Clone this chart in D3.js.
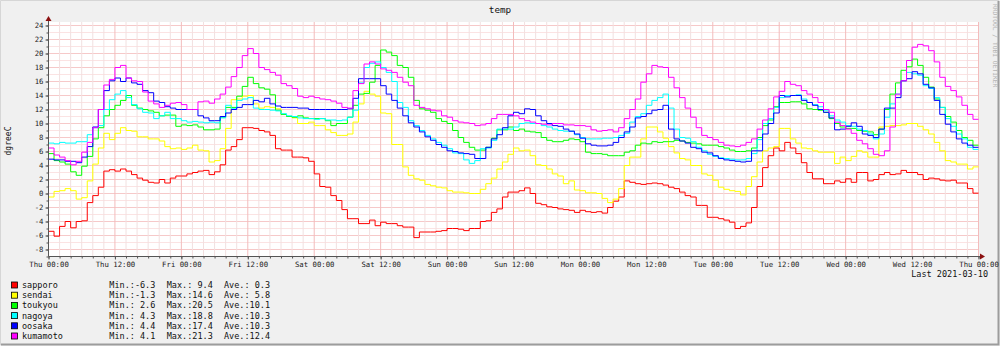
<!DOCTYPE html>
<html>
<head>
<meta charset="utf-8">
<script src="https://cdn.jsdelivr.net/npm/d3@7"></script>
<style>
  html, body { margin: 0; padding: 0; background: #f0f0f0; }
  text { font-family: "DejaVu Sans Mono", monospace; }
</style>
</head>
<body>
<svg width="1000" height="346"></svg>
<script>
// hourly readings, Thu 2021-03-04 00:00 .. Wed 2021-03-10 23:00
let startTime = new Date(2021, 2, 4, 0, 0)
let endTime = new Date(2021, 2, 11, 0, 0)

let stations = ['sapporo', 'sendai', 'toukyou', 'nagoya', 'oosaka', 'kumamoto']
let colors = ['#ff0000', '#ffff00', '#00ff00', '#00ffff', '#0000ff', '#ff00ff']

let sapporo = [-5.4,-6.1,-4.7,-4.0,-4.9,-4.0,-3.9,-1.3,-0.3,0.9, 3.2,3.4,3.2,3.5,3.2,2.7,2.2,1.9,1.6,1.5,
  2.0,1.5,2.2,2.5,2.5,2.8,3.0,3.2,3.3,2.7, 3.1,4.1,6.2,6.7,7.7,9.4,9.4,9.3,9.0,8.8, 8.3,6.4,
  6.2,6.2,5.2,5.2,5.1,4.6,2.8,1.0,0.9,-0.3, -1.0,-2.3,-3.6,-3.6,-4.3,-4.3,-3.8,-4.6,-4.1,-4.3,
  -4.3,-4.6,-4.8,-4.8,-6.3,-5.5,-5.5,-5.5,-5.4,-5.3, -5.0,-5.0,-5.1,-5.3,-5.0,-5.0,-4.0,-3.9,-2.7,-2.2,
  -0.5,0.2,0.2,
  0.4,0.8,0.0,-1.4,-1.6,-1.9,-2.0,-2.2,-2.3,-2.4, -2.7,-2.4,-2.6,-2.7,-2.6,-2.8,-2.0,-1.1,-0.5,1.8,
  1.6,1.4,1.3,1.4,1.5,1.4,1.2,0.9,0.7,0.2, -0.3,-0.5,-1.7,-1.7,
  -3.4,-3.4,-3.6,-3.8,-4.1,-5.0,-4.7,-4.2,-2.0,1.0, 3.7,5.4,6.5,6.1,7.3,6.5,5.7,4.4,3.0,2.1, 2.1,
  1.4,1.4,1.8,1.6,2.1,1.6,3.0,3.0,1.8,2.0, 2.7,3.0,2.7,2.8,3.3,3.0,3.0,2.7,2.0,2.2,
  2.1,1.9,1.8,1.9,1.5,1.5,0.7,0.05]

let sendai = [-0.5,0.3,0.4,0.7,0.4,-0.8,-0.6,1.8,4.2,6.5, 8.6,7.7,8.6,9.4,9.0,8.9,8.1,8.1,7.8,7.8,
  7.5,6.7,6.4,6.5,6.3,6.5,6.9,6.2,6.1,4.5, 4.7,6.4,9.3,13.4,13.5,13.9,14.0,12.8,12.2,12.4, 12.3,12.1,
  11.3,11.0,10.8,10.0,10.0,10.2,9.7,9.7,9.1,8.7, 8.3,8.3,8.5,10.2,12.8,14.6,14.2,13.9,11.5,11.4,
  7.0,7.0,3.8,2.6,2.1,1.9,1.3,1.1,0.9,0.8, 0.4,0.2,0.2,0.1,0.0,0.0,0.6,1.4,2.2,3.5,
  4.5,5.6,6.5,
  6.1,6.2,5.4,4.1,4.0,3.5,2.8,2.5,1.4,1.8, 0.5,0.4,0.1,0.1,0.0,-0.7,-1.3,-0.8,0.7,4.0,
  5.2,5.2,7.8,9.5,9.5,8.8,7.9,6.7,5.8,5.0, 4.8,4.0,4.0,2.8,
  2.6,1.9,0.9,0.6,0.4,0.3,-0.2,1.0,2.4,4.5, 6.1,6.5,6.7,9.3,9.3,7.8,7.2,6.5,6.4,6.1, 5.9,
  5.9,5.9,4.3,5.2,4.7,5.3,6.1,5.9,5.2,5.2, 9.5,9.6,9.7,9.7,9.8,10.0,10.0,9.6,9.1,8.5,
  7.3,6.1,4.7,4.5,4.2,4.2,3.5,3.8]

let toukyou = [5.7,4.7,4.5,4.2,3.1,2.6,3.9,5.3,7.8,9.4, 11.1,12.0,12.6,13.3,14.0,12.6,12.2,12.0,11.8,11.6,
  11.1,11.2,11.2,9.6,9.8,9.7,9.8,9.5,9.1,9.1, 9.2,10.9,12.3,12.3,13.9,15.3,16.6,15.7,15.1,14.9, 14.1,11.9,
  11.3,11.0,10.9,11.1,10.8,10.7,10.7,10.7,10.4,9.7, 10.0,10.0,10.9,12.6,14.2,14.3,15.9,18.3,20.5,20.2,
  19.7,18.3,18.0,16.6,13.3,12.1,11.9,11.6,10.7,10.3, 10.0,9.0,8.0,7.3,6.6,6.2,6.2,6.6,7.9,9.1,
  9.1,9.5,9.0,
  9.2,8.9,8.8,8.7,8.0,7.6,7.4,7.4,7.6,7.8, 7.7,7.4,5.9,5.7,5.7,5.6,5.4,5.4,5.4,5.9,
  6.1,6.9,7.2,7.1,7.4,7.3,7.4,7.4,7.6,7.5, 7.3,7.2,7.1,6.9,
  6.9,6.9,6.7,6.5,6.2,6.0,6.0,6.1,6.5,8.0, 9.7,10.5,12.4,13.0,13.0,13.1,13.1,12.8,12.1,12.0, 11.9,
  11.6,10.7,10.0,9.5,9.3,9.3,9.0,8.9,8.8,8.4, 9.2,12.0,14.2,15.8,17.6,18.1,19.2,18.3,16.6,15.2,
  13.5,12.3,11.0,10.2,9.0,8.0,7.6,6.9]

let nagoya = [7.2,7.1,7.3,7.2,7.2,7.4,7.4,8.4,9.4,9.7, 12.0,13.4,14.2,14.7,13.7,12.7,12.1,11.6,11.5,10.7,
  11.1,11.6,10.7,10.7,10.4,10.2,10.3,10.2,10.1,10.2, 10.1,10.8,12.6,12.1,13.3,13.5,13.7,12.2,12.0,12.0, 11.9,11.8,
  11.4,11.1,11.0,10.8,10.7,10.7,10.6,10.7,10.5,10.5, 10.4,10.5,10.9,11.9,15.8,18.0,18.6,18.8,18.0,17.3,
  16.0,13.0,12.3,10.4,9.7,9.0,8.3,7.8,7.3,6.9, 6.4,5.8,5.7,4.8,4.3,4.7,6.4,6.5,7.6,9.2,
  9.2,9.2,9.5,
  10.0,10.1,10.0,10.0,9.7,9.5,9.2,9.0,8.9,8.9, 8.4,8.0,7.8,7.8,7.8,7.9,7.9,8.0,8.3,8.6,
  10.2,11.0,11.4,12.6,13.3,13.7,14.2,12.2,9.2,8.0, 7.9,7.4,6.6,6.1,
  5.6,5.3,5.1,5.0,4.9,4.8,4.8,5.0,5.7,7.7, 10.0,10.7,12.3,13.7,14.0,14.0,14.1,13.5,13.0,12.7, 12.4,
  11.9,11.1,10.5,10.2,9.7,9.6,9.2,9.0,8.5,7.8, 8.5,10.9,12.8,14.2,16.1,17.3,17.1,16.9,15.4,15.0,
  13.7,12.3,10.7,9.6,8.5,7.8,6.6,6.3]

let oosaka = [4.9,4.8,4.8,4.6,4.6,4.4,5.2,6.7,9.5,12.0, 14.7,16.1,16.5,16.0,16.5,15.8,15.6,14.7,14.4,13.2,
  13.0,12.4,12.2,12.0,12.0,12.0,12.0,11.1,10.8,10.4, 10.4,11.0,11.5,12.0,12.3,12.7,12.7,13.3,13.1,13.6, 12.8,12.5,
  12.3,12.3,12.3,12.2,12.2,12.0,12.0,12.0,12.0,12.0, 12.0,12.0,12.1,13.6,16.4,16.4,16.4,16.4,15.4,14.2,
  13.3,12.2,11.1,10.1,9.5,8.8,8.1,7.6,7.0,6.6, 6.1,6.0,5.8,5.7,5.6,5.0,5.0,6.6,7.8,8.4,
  9.4,11.1,11.6,
  11.4,12.1,12.0,11.1,10.4,10.0,9.7,9.6,9.2,8.9, 8.5,7.9,7.1,6.9,6.8,6.8,6.9,7.3,8.0,8.8,
  9.5,10.8,11.0,11.4,11.9,12.0,12.6,9.2,7.8,7.5, 7.2,6.6,6.4,5.9,
  5.8,5.4,5.0,4.8,4.7,4.6,4.5,4.6,6.1,6.1, 8.5,10.0,11.5,14.0,13.8,14.0,14.0,13.3,13.0,12.6, 12.0,
  11.6,10.8,9.1,9.2,9.6,10.1,9.6,8.5,8.3,8.0, 9.2,12.2,12.2,13.7,16.1,16.4,17.4,17.1,15.6,15.1,
  13.3,11.3,9.9,8.8,7.8,7.2,6.9,6.6]

let kumamoto = [6.5,5.5,5.2,4.7,4.1,4.6,5.9,7.3,9.4,12.0, 15.5,16.3,18.0,18.3,16.5,16.1,16.0,14.5,13.2,12.8,
  12.3,12.6,12.9,13.0,12.7,12.0,12.0,13.1,13.2,12.9, 13.5,14.2,15.2,16.7,18.0,19.7,20.7,20.0,18.0,17.7, 17.3,16.9,
  15.7,15.4,15.0,13.9,13.7,13.9,13.7,13.5,13.4,13.2, 12.9,12.3,12.2,14.7,15.7,18.5,18.8,18.5,17.8,17.6,
  17.3,16.6,15.9,15.4,12.6,12.3,12.1,11.9,11.8,11.1, 10.9,10.4,10.2,10.1,10.0,9.7,9.8,10.0,10.7,11.3,
  11.3,11.3,11.1,
  10.7,10.4,10.2,10.0,9.9,9.8,10.0,10.0,9.8,9.8, 9.7,9.7,9.6,9.1,8.9,9.0,9.1,8.8,9.4,10.7,
  12.0,13.5,15.9,17.1,18.3,18.1,18.0,16.6,15.1,13.7, 12.2,10.9,9.4,8.3,
  8.0,7.7,7.3,6.9,6.8,6.7,6.9,7.3,7.8,9.2, 10.5,12.1,13.8,14.6,16.0,15.6,15.4,14.7,14.2,13.7, 13.0,
  12.0,11.6,10.2,9.7,9.2,8.6,7.6,7.1,6.4,5.6, 5.4,6.1,9.5,14.2,16.1,19.0,20.9,21.3,21.1,20.4,
  18.8,16.6,15.3,14.7,13.8,12.6,11.3,10.6]

let seriesValues = [sapporo, sendai, toukyou, nagoya, oosaka, kumamoto]

// legend statistics
let minVals = [-6.3, -1.3, 2.6, 4.3, 4.4, 4.1]
let maxVals = [9.4, 14.6, 20.5, 18.8, 17.4, 21.3]
let aveVals = [0.3, 5.8, 10.1, 10.3, 10.3, 12.4]

let yTicks = d3.range(-8, 25, 2)

let width = 1000,
    height = 346;

let svg = d3.select('svg')
            .attr('width', width)
            .attr('height', height)

// frame
svg.append('rect').attr('width', width).attr('height', height).attr('fill', '#f0f0f0')
svg.append('path').attr('d', 'M0.5,345 V0.5 H999').attr('stroke', '#d6d6d6').attr('stroke-width', 1).attr('fill', 'none')
svg.append('path').attr('d', 'M1,344.5 H998.5 V1').attr('stroke', '#9c9c9c').attr('stroke-width', 2).attr('fill', 'none')

//x scale
let x = d3.scaleTime()
      .domain([startTime, endTime])
      .range([48.5, 978.5])

//y scale
let y = d3.scaleLinear()
      .domain([-9, 24.5])
      .range([256.5, 22])

let plot = svg.append('g')

plot.append('rect')
    .attr('x', x.range()[0])
    .attr('y', y(24.5))
    .attr('width', x.range()[1] - x.range()[0])
    .attr('height', y(-9) - y(24.5))
    .attr('fill', '#ffffff')

// grid
let minorHours = d3.timeHour.every(2).range(startTime, d3.timeHour.offset(endTime, 1))
let majorHours = d3.timeHour.every(12).range(startTime, d3.timeHour.offset(endTime, 1))
let minorVals = d3.range(-9, 25, 1)

plot.selectAll('.hgrid')
    .data(minorVals)
    .enter()
    .append('line')
    .attr('x1', x.range()[0]).attr('x2', x.range()[1])
    .attr('y1', d => y(d)).attr('y2', d => y(d))
    .attr('stroke', d => d % 2 === 0 ? '#f6c9c9' : '#fbe3e3')
    .attr('stroke-width', 1)

plot.selectAll('.vgrid')
    .data(minorHours)
    .enter()
    .append('line')
    .attr('x1', d => x(d)).attr('x2', d => x(d))
    .attr('y1', y(24.5)).attr('y2', y(-9))
    .attr('stroke', d => d.getHours() % 12 === 0 ? '#f3bcbc' : '#f2e0e0')
    .attr('stroke-width', 1)

// axes
let xAxis = d3.axisBottom()
              .scale(x)
              .tickValues(majorHours)
              .tickFormat(d3.timeFormat('%a %H:%M'))
              .tickSize(3)
              .tickPadding(2)

let xMinor = d3.axisBottom()
              .scale(x)
              .tickValues(minorHours)
              .tickFormat('')
              .tickSize(2)

let yAxis = d3.axisLeft()
              .scale(y)
              .tickValues(yTicks)
              .tickFormat(d => String(d))
              .tickSize(3)
              .tickPadding(2)

let yMinor = d3.axisLeft()
              .scale(y)
              .tickValues(minorVals.filter(d => d <= 24))
              .tickFormat('')
              .tickSize(2)

let gx = svg.append('g').attr('transform', 'translate(0,' + y(-9) + ')')
gx.call(xMinor)
gx.append('g').call(xAxis)

let gy = svg.append('g').attr('transform', 'translate(' + x.range()[0] + ',0)')
gy.call(yMinor)
gy.append('g').call(yAxis)

svg.selectAll('.domain').remove()
svg.selectAll('.tick line').attr('stroke', '#555555')
svg.selectAll('.tick text')
   .attr('font-family', '"DejaVu Sans Mono", monospace')
   .attr('font-size', '7.3px')
   .attr('fill', '#222222')

// series
let line = d3.line()
             .x(d => x(d.t))
             .y(d => y(d.v))
             .curve(d3.curveStepAfter)

seriesValues.forEach((vals, i) => {
  let pts = vals.map((v, h) => ({t: d3.timeHour.offset(startTime, h), v: v}))
  pts.push({t: endTime, v: vals[vals.length - 1]})
  plot.append('path')
      .datum(pts)
      .attr('d', line)
      .attr('fill', 'none')
      .attr('stroke', colors[i])
      .attr('stroke-width', 1)
})

// axis lines and arrows
svg.append('line')
   .attr('x1', x.range()[0]).attr('x2', 983)
   .attr('y1', y(-9)).attr('y2', y(-9))
   .attr('stroke', '#555555')
svg.append('line')
   .attr('x1', x.range()[0]).attr('x2', x.range()[0])
   .attr('y1', y(-9)).attr('y2', 19)
   .attr('stroke', '#555555')
svg.append('path')
   .attr('d', 'M980,' + (y(-9) - 3) + ' L985,' + y(-9) + ' L980,' + (y(-9) + 3) + ' Z')
   .attr('fill', '#8b1010')
svg.append('path')
   .attr('d', 'M' + (x.range()[0] - 3) + ',21 L' + x.range()[0] + ',16 L' + (x.range()[0] + 3) + ',21 Z')
   .attr('fill', '#8b1010')

// title, labels
svg.append('text')
   .attr('x', 500).attr('y', 13)
   .attr('text-anchor', 'middle')
   .attr('font-size', '9.3px')
   .attr('fill', '#111')
   .text('temp')

svg.append('text')
   .attr('transform', 'translate(11,141) rotate(-90)')
   .attr('text-anchor', 'middle')
   .attr('font-size', '8px')
   .attr('fill', '#111')
   .text('dgreeC')

svg.append('text')
   .attr('transform', 'translate(992.5,4) rotate(90)')
   .attr('font-size', '6.3px')
   .attr('fill', '#b4b4b4')
   .text('RRDTOOL / TOBI OETIKER')

svg.append('text')
   .attr('x', 988).attr('y', 277)
   .attr('text-anchor', 'end')
   .attr('font-size', '8.5px')
   .attr('fill', '#111')
   .text('Last 2021-03-10')

// legend
let fmt = v => {
  let s = v.toFixed(1)
  return s.length < 4 ? ' '.repeat(4 - s.length) + s : s
}

let legend = svg.selectAll('.legend')
                .data(stations)
                .enter()
                .append('g')
                .attr('transform', (d, i) => 'translate(0,' + (285 + i * 10.2) + ')')

legend.append('rect')
      .attr('x', 11.5).attr('y', -3)
      .attr('width', 6).attr('height', 6)
      .attr('fill', (d, i) => colors[i])
      .attr('stroke', '#000')
      .attr('stroke-width', 0.8)

let legendText = [
  {x: 22, f: (d, i) => d},
  {x: 109.3, f: (d, i) => 'Min.:' + fmt(minVals[i])},
  {x: 166.7, f: (d, i) => 'Max.:' + fmt(maxVals[i])},
  {x: 224, f: (d, i) => 'Ave.:' + fmt(aveVals[i])}
]

legendText.forEach(col => {
  legend.append('text')
        .attr('x', col.x).attr('y', 3)
        .attr('font-size', '8.5px')
        .attr('fill', '#111')
        .style('white-space', 'pre')
        .text(col.f)
})
</script>
</body>
</html>
